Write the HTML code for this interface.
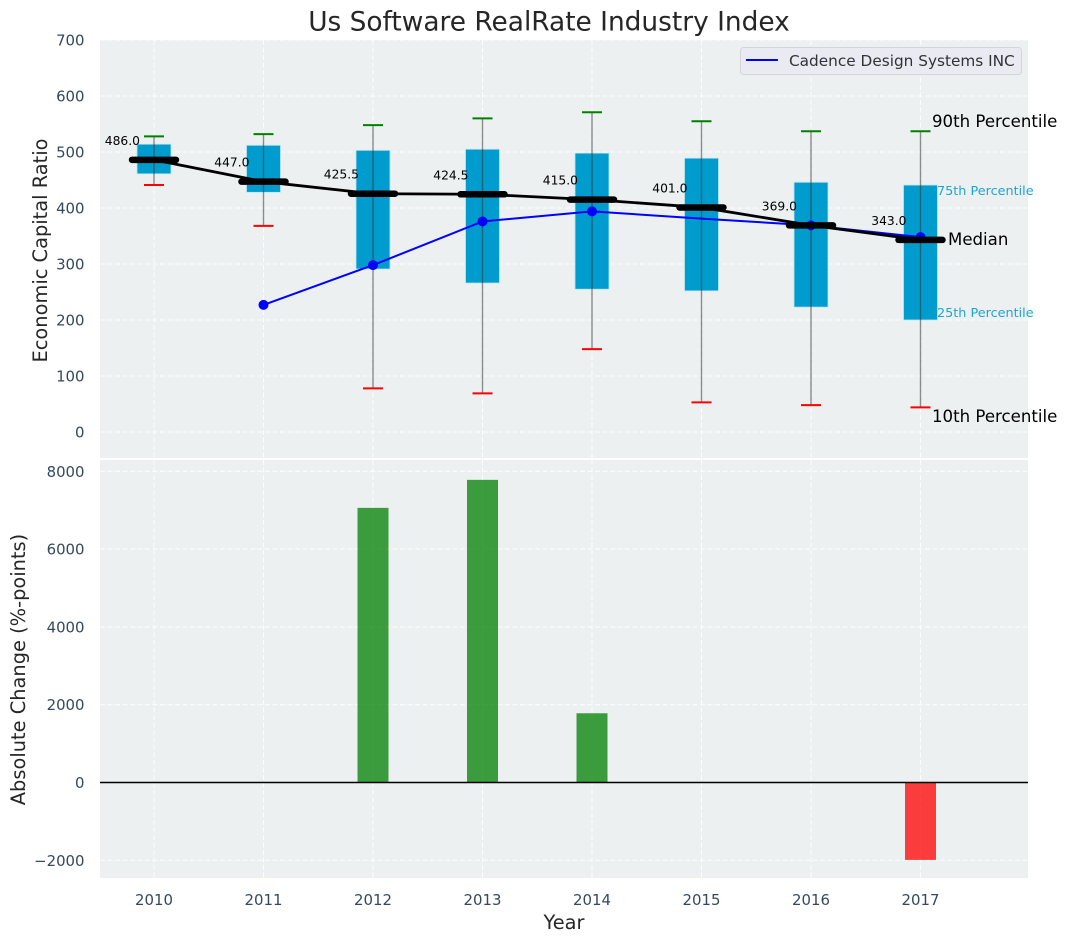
<!DOCTYPE html>
<html lang="en">
<head>
<meta charset="utf-8">
<title>Us Software RealRate Industry Index</title>
<style>
html,body{margin:0;padding:0;background:#fff}
svg{display:block}
text{font-family:"DejaVu Sans","Liberation Sans",sans-serif}
</style>
</head>
<body>
<svg id="chart" xmlns="http://www.w3.org/2000/svg" width="1067" height="942" viewBox="0 0 1067 942">
  <rect width="1067" height="942" fill="#fff"/>
  <rect x="100" y="40" width="928" height="418" fill="#ecf0f1"/>
  <rect x="100" y="460" width="928" height="418" fill="#ecf0f1"/>
  <g id="grid"></g>
  <g id="bars"></g>
  <g id="boxes"></g>
  <g id="peer"></g>
  <g id="median"></g>
  <g id="ticks"></g>
  <text x="549" y="30.5" text-anchor="middle" font-size="26.4" fill="#262626">Us Software RealRate Industry Index</text>
  <text transform="translate(47,250.5) rotate(-90)" text-anchor="middle" font-size="19.4" fill="#262626">Economic Capital Ratio</text>
  <text transform="translate(25,669.5) rotate(-90)" text-anchor="middle" font-size="19.4" fill="#262626">Absolute Change (%-points)</text>
  <text x="564" y="929" text-anchor="middle" font-size="19.4" fill="#262626">Year</text>
  <g>
    <rect x="740.5" y="47.5" width="281" height="27" rx="3" fill="#eaeaf2" stroke="#d5d5d8"/>
    <line x1="746" y1="60" x2="778" y2="60" stroke="#0000ff" stroke-width="2"/>
    <text x="789" y="66" font-size="15.3" fill="#333">Cadence Design Systems INC</text>
  </g>
  <text x="932" y="127" font-size="16.6" fill="#000">90th Percentile</text>
  <text x="937" y="195" font-size="12.8" fill="#1ea5d2">75th Percentile</text>
  <text x="948" y="245" font-size="16.6" fill="#000">Median</text>
  <text x="937" y="317" font-size="12.8" fill="#1ea5d2">25th Percentile</text>
  <text x="932" y="422" font-size="16.6" fill="#000">10th Percentile</text>
</svg>
<script>
const years = [2010, 2011, 2012, 2013, 2014, 2015, 2016, 2017];
const p10 = [441, 368, 78, 69, 148, 53, 48, 44];
const p25 = [461, 428, 291, 266, 255, 252, 223, 200];
const medians = [486, 447, 425.5, 424.5, 415, 401, 369, 343];
const p75 = [514, 512, 503, 505, 498, 489, 446, 441];
const p90 = [528, 532, 548, 560, 571, 555, 537, 537];
const cadence = [null, 227, 298, 376, 394, 381, 369, 348];
const changes = [0, 0, 7060, 7780, 1780, 0, 0, -1990];
const topTicks = [0, 100, 200, 300, 400, 500, 600, 700];
const bottomTicks = [-2000, 0, 2000, 4000, 6000, 8000];

const NS = 'http://www.w3.org/2000/svg';
const xScale = v => 154 + (v - 2010) * 109.5;
const yTop = v => 432 - v * 0.56;
const yBottom = v => 782.5 - v * 0.0389;

function make(tag, parent, attrs, content) {
  const el = document.createElementNS(NS, tag);
  for (const k in attrs) el.setAttribute(k, attrs[k]);
  if (content !== undefined) el.textContent = content;
  document.getElementById(parent).appendChild(el);
  return el;
}
const gridStyle = {stroke: '#ffffff', 'stroke-opacity': 0.85, 'stroke-width': 1.1, 'stroke-dasharray': '5 2.5'};

topTicks.forEach(t => {
  const line = make('line', 'grid', {x1: 100, x2: 1028, y1: yTop(t), y2: yTop(t), ...gridStyle});
  
  
  const label = make('text', 'ticks', {x: 84.5, y: yTop(t) + 5.5, 'text-anchor': 'end', 'font-size': 14.9, fill: '#34495e'}, String(t));
  
  
});

bottomTicks.forEach(t => {
  const line = make('line', 'grid', {x1: 100, x2: 1028, y1: yBottom(t), y2: yBottom(t), ...gridStyle});
  
  
  const text = t < 0 ? '\u2212' + Math.abs(t) : String(t);
  const label = make('text', 'ticks', {x: 84.5, y: yBottom(t) + 5.5, 'text-anchor': 'end', 'font-size': 14.9, fill: '#34495e'}, text);
  
  
});

years.forEach(y => {
  const topLine = make('line', 'grid', {x1: xScale(y), x2: xScale(y), y1: 40, y2: 458, ...gridStyle});
  
  
  const bottomLine = make('line', 'grid', {x1: xScale(y), x2: xScale(y), y1: 460, y2: 878, ...gridStyle});
  
  
  const label = make('text', 'ticks', {x: xScale(y), y: 905, 'text-anchor': 'middle', 'font-size': 14.9, fill: '#34495e'}, String(y));
  
  
});

changes.forEach((c, i) => {
  if (c === 0) return;
  const y0 = yBottom(Math.max(c, 0));
  const y1 = yBottom(Math.min(c, 0));
  const bar = make('rect', 'bars', {x: xScale(years[i]) - 15.5, y: y0, width: 31, height: y1 - y0, fill: c > 0 ? '#008000' : '#ff0000', 'fill-opacity': 0.75});
  
  
});
const zeroLine = make('line', 'bars', {x1: 100, x2: 1028, y1: yBottom(0), y2: yBottom(0), stroke: '#000', 'stroke-width': 1.4});



years.forEach((y, i) => {
  const cx = xScale(y);
  const box = make('rect', 'boxes', {x: cx - 17, y: yTop(p75[i]), width: 34, height: yTop(p25[i]) - yTop(p75[i]), fill: '#009ccd', stroke: '#bfe6f2', 'stroke-width': 0.8});
  
  
  const whisker = make('line', 'boxes', {x1: cx, x2: cx, y1: yTop(p90[i]), y2: yTop(p10[i]), stroke: '#333', 'stroke-opacity': 0.55, 'stroke-width': 1.4});
  
  
  const capHigh = make('line', 'boxes', {x1: cx - 10, x2: cx + 10, y1: yTop(p90[i]), y2: yTop(p90[i]), stroke: '#008000', 'stroke-width': 2});
  
  
  const capLow = make('line', 'boxes', {x1: cx - 10, x2: cx + 10, y1: yTop(p10[i]), y2: yTop(p10[i]), stroke: '#ff0000', 'stroke-width': 2});
  
  
});

const peerPoints = years.map((y, i) => cadence[i] === null ? null : [xScale(y), yTop(cadence[i])]).filter(Boolean);
const peerLine = make('polyline', 'peer', {points: peerPoints.map(p => p.join(',')).join(' '), fill: 'none', stroke: '#0000ff', 'stroke-width': 2});


const peerMarked = [1, 2, 3, 4, 6, 7];
peerMarked.forEach(i => {
  const dot = make('circle', 'peer', {cx: xScale(years[i]), cy: yTop(cadence[i]), r: 5, fill: '#0000ff'});
  
  
});

const medianLine = make('polyline', 'median', {points: years.map((y, i) => xScale(y) + ',' + yTop(medians[i])).join(' '), fill: 'none', stroke: '#000', 'stroke-width': 2.8});


years.forEach((y, i) => {
  const cx = xScale(y);
  const bar = make('line', 'median', {x1: cx - 22, x2: cx + 22, y1: yTop(medians[i]), y2: yTop(medians[i]), stroke: '#000', 'stroke-width': 6.5, 'stroke-linecap': 'round'});
  
  
  const label = make('text', 'median', {x: cx - 14, y: yTop(medians[i]) - 15, 'text-anchor': 'end', 'font-size': 12.3, fill: '#000'}, medians[i].toFixed(1));
  
  
});
</script>
</body>
</html>
